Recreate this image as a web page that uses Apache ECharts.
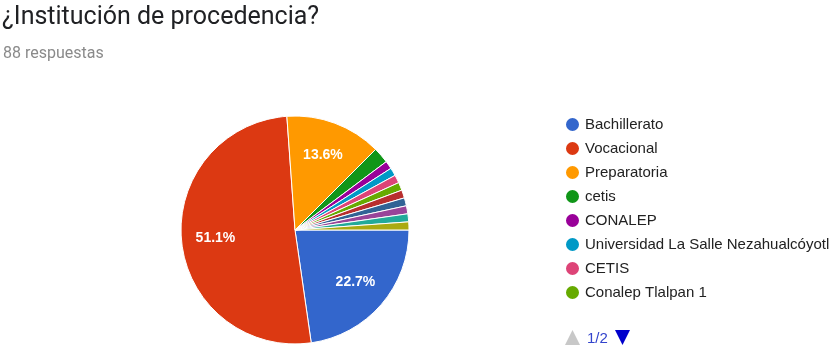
<!DOCTYPE html>
<html>
<head>
<meta charset="utf-8">
<script src="https://cdn.jsdelivr.net/npm/echarts@6/dist/echarts.min.js"></script>
<style>
html, body { margin: 0; padding: 0; background: #fff; }
#main { width: 840px; height: 351px; }
</style>
</head>
<body>
<div id="main"></div>
<script>
var categories = ['Bachillerato', 'Vocacional', 'Preparatoria', 'cetis', 'CONALEP',
    'Universidad La Salle Nezahualcóyotl', 'CETIS', 'Conalep Tlalpan 1',
    'CCH', 'CBTIS', 'Colegio de Bachilleres', 'Prepa Abierta', 'Otra'];
var counts = [20, 45, 12, 2, 1, 1, 1, 1, 1, 1, 1, 1, 1];
var colors = ['#3366cc', '#dc3912', '#ff9900', '#109618', '#990099', '#0099c6', '#dd4477',
    '#66aa00', '#b82e2e', '#316395', '#994499', '#22aa99', '#aaaa11'];
// legend page 1 of 2
var legendPage = categories.slice(0, 8);
var pageText = '1/2';

var total = counts.reduce(function (a, b) { return a + b; }, 0);
var pieData = categories.map(function (name, i) {
    return { name: name, value: counts[i] };
});

var myChart = echarts.init(document.getElementById('main'));
var option = {
    color: colors,
    backgroundColor: '#fff',
    title: [{
        text: '¿Institución de procedencia?',
        left: 2,
        top: 5,
        padding: 0,
        textStyle: { fontFamily: 'Roboto', fontSize: 25, fontWeight: 'normal', color: '#202124' }
    }, {
        text: '88 respuestas',
        left: 3,
        top: 46,
        padding: 0,
        textStyle: { fontFamily: 'Roboto', fontSize: 16, fontWeight: 'normal', color: '#8a8a8a' }
    }],
    legend: {
        orient: 'vertical',
        left: 564,
        top: 116,
        padding: 0,
        icon: 'circle',
        itemWidth: 15,
        itemHeight: 15,
        itemGap: 7,
        data: legendPage,
        textStyle: { fontFamily: 'Liberation Sans', fontSize: 15, color: '#222' }
    },
    graphic: [{
        type: 'polygon',
        shape: { points: [[565, 345], [580, 345], [572.5, 330]] },
        style: { fill: '#c8c8c8' },
        silent: true
    }, {
        type: 'text',
        x: 587,
        y: 331,
        style: { text: pageText, fill: '#3344cc', font: '15px "Liberation Sans"' },
        silent: true
    }, {
        type: 'polygon',
        shape: { points: [[615, 330], [630, 330], [622.5, 345]] },
        style: { fill: '#0000cc' },
        silent: true
    }],
    series: [{
        type: 'pie',
        center: [295, 230],
        radius: [0, 114],
        startAngle: 0,
        clockwise: true,
        data: pieData,
        label: { show: false },
        labelLine: { show: false },
        itemStyle: { borderColor: '#fff', borderWidth: 1 },
        emphasis: { disabled: true }
    }, {
        type: 'pie',
        center: [295, 230],
        radius: [40, 114],
        startAngle: 0,
        clockwise: true,
        silent: true,
        data: pieData,
        itemStyle: { color: 'transparent' },
        label: {
            show: true,
            position: 'inside',
            color: '#fff',
            fontFamily: 'Liberation Sans',
            fontWeight: 'bold',
            fontSize: 14,
            formatter: function (p) {
                return p.value / total > 0.05 ? (p.value / total * 100).toFixed(1) + '%' : '';
            }
        },
        labelLine: { show: false },
        emphasis: { disabled: true }
    }]
};
myChart.setOption(option);
</script>
</body>
</html>
